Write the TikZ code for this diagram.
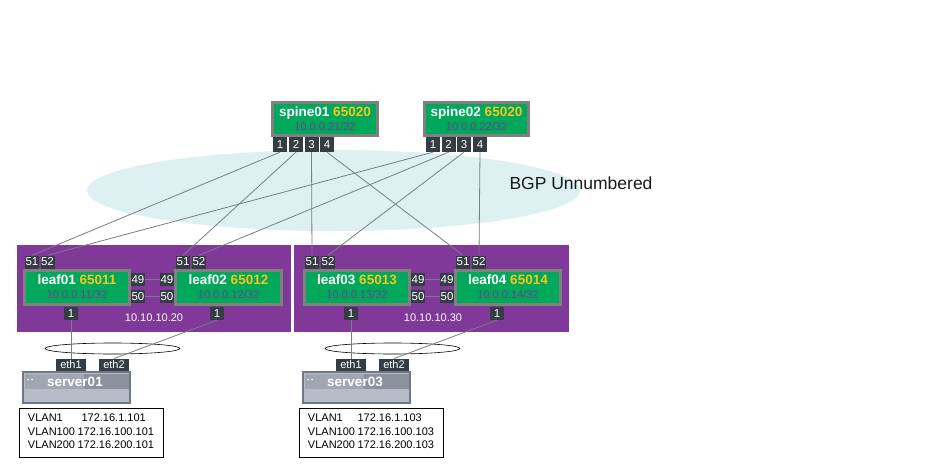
\documentclass[tikz,border=0pt]{standalone}
\usepackage{fontspec}
\setmainfont{Liberation Sans}
\usetikzlibrary{shapes.geometric}
\definecolor{devgreen}{RGB}{0,168,92}
\definecolor{asn}{RGB}{247,196,30}
\definecolor{ipc}{RGB}{108,68,140}
\definecolor{framec}{RGB}{128,128,128}
\definecolor{portc}{RGB}{52,60,68}
\definecolor{purp}{RGB}{128,57,152}
\definecolor{bgpc}{RGB}{221,241,243}
\definecolor{linec}{RGB}{120,126,134}
\definecolor{srvedge}{RGB}{112,119,129}
\definecolor{srvlow}{RGB}{182,189,200}
\definecolor{srvbandl}{RGB}{160,167,179}
\definecolor{srvbandr}{RGB}{138,146,158}
\tikzset{
  device/.style={draw=framec, line width=3pt, fill=devgreen, inner sep=0pt},
  devname/.style={inner sep=0pt, text=white, font=\fontsize{13.5}{13.5}\selectfont\bfseries},
  devip/.style={inner sep=0pt, text=ipc, font=\fontsize{11}{11}\selectfont},
  portbox/.style={fill=portc, text=white, inner sep=0pt, minimum width=14pt, minimum height=14pt, font=\fontsize{11.5}{11.5}\selectfont},
  ethbox/.style={fill=portc, text=white, inner sep=0pt, minimum width=30pt, minimum height=12.5pt, font=\fontsize{11}{11}\selectfont},
  link/.style={draw=linec, line width=0.8pt},
  podbox/.style={fill=purp, draw=none, inner sep=0pt},
  podlabel/.style={text=white, inner sep=0pt, font=\fontsize{11}{11}\selectfont},
  srvbox/.style={fill=srvlow, draw=srvedge, line width=1.5pt, inner sep=0pt, minimum width=106pt, minimum height=30pt},
  srvname/.style={text=white, inner sep=0pt, font=\fontsize{13.5}{13.5}\selectfont\bfseries},
  vlanbox/.style={draw=black, line width=0.6pt, fill=white, inner sep=0pt, minimum width=144pt, minimum height=49pt, font=\fontsize{11}{13.5}\selectfont},
  bondring/.style={draw=black, line width=0.6pt, ellipse, inner sep=0pt, minimum width=135pt, minimum height=11pt},
}
\begin{document}
\begin{tikzpicture}[x=1pt,y=-1pt]
\useasboundingbox (0,0) rectangle (927,468);
\fill[white] (0,0) rectangle (927,468);

% BGP cloud
\node[ellipse, fill=bgpc, draw=none, minimum width=493pt, minimum height=81pt, inner sep=0pt] (bgp) at (333.5,190.5) {};
\node[inner sep=0pt, font=\fontsize{17.5}{17.5}\selectfont, text={rgb,255:red,25;green,25;blue,25}] (bgptext) at (581,183) {BGP Unnumbered};

% pods
\node[podbox, minimum width=274pt, minimum height=87pt] (pod1) at (154,288.5) {};
\node[podbox, minimum width=275pt, minimum height=87pt] (pod2) at (431.5,288.5) {};
\node[podlabel] (pod1lbl) at (154,318) {10.10.10.20};
\node[podlabel] (pod2lbl) at (433,318) {10.10.10.30};

% spines
\node[device, minimum width=105pt, minimum height=33pt] (s1) at (325,119) {};
\node[devname] (s1n) at ([yshift=6pt]s1.center) {spine01 \textcolor{asn}{65020}};
\node[devip] (s1i) at ([yshift=-8pt]s1.center) {10.0.0.21/32};
\node[device, minimum width=104pt, minimum height=33pt] (s2) at (476.5,119) {};
\node[devname] (s2n) at ([yshift=6pt]s2.center) {spine02 \textcolor{asn}{65020}};
\node[devip] (s2i) at ([yshift=-8pt]s2.center) {10.0.0.22/32};

\node[portbox, minimum height=15pt] (s1p1) at (280,144.5) {1};
\node[portbox, minimum height=15pt] (s1p2) at (296,144.5) {2};
\node[portbox, minimum height=15pt] (s1p3) at (311.5,144.5) {3};
\node[portbox, minimum height=15pt] (s1p4) at (327,144.5) {4};
\node[portbox, minimum height=15pt] (s2p1) at (433,144.5) {1};
\node[portbox, minimum height=15pt] (s2p2) at (448.5,144.5) {2};
\node[portbox, minimum height=15pt] (s2p3) at (464,144.5) {3};
\node[portbox, minimum height=15pt] (s2p4) at (480,144.5) {4};

% leaves
\node[device, minimum width=105pt, minimum height=34pt] (l1) at (77,287.5) {};
\node[devname] (l1n) at ([yshift=7.5pt]l1.center) {leaf01 \textcolor{asn}{65011}};
\node[devip] (l1i) at ([yshift=-7.5pt]l1.center) {10.0.0.11/32};
\node[device, minimum width=106pt, minimum height=34pt] (l2) at (228.5,287.5) {};
\node[devname] (l2n) at ([yshift=7.5pt]l2.center) {leaf02 \textcolor{asn}{65012}};
\node[devip] (l2i) at ([yshift=-7.5pt]l2.center) {10.0.0.12/32};
\node[device, minimum width=105pt, minimum height=34pt] (l3) at (357,287.5) {};
\node[devname] (l3n) at ([yshift=7.5pt]l3.center) {leaf03 \textcolor{asn}{65013}};
\node[devip] (l3i) at ([yshift=-7.5pt]l3.center) {10.0.0.13/32};
\node[device, minimum width=105pt, minimum height=34pt] (l4) at (508,287.5) {};
\node[devname] (l4n) at ([yshift=7.5pt]l4.center) {leaf04 \textcolor{asn}{65014}};
\node[devip] (l4i) at ([yshift=-7.5pt]l4.center) {10.0.0.14/32};

% uplink ports
\node[portbox, minimum height=13pt] (l1p51) at (32,262) {51};
\node[portbox, minimum height=13pt] (l1p52) at (47.5,262) {52};
\node[portbox, minimum height=13pt] (l2p51) at (183,262) {51};
\node[portbox, minimum height=13pt] (l2p52) at (199,262) {52};
\node[portbox, minimum height=13pt] (l3p51) at (312,262) {51};
\node[portbox, minimum height=13pt] (l3p52) at (328,262) {52};
\node[portbox, minimum height=13pt] (l4p51) at (463,262) {51};
\node[portbox, minimum height=13pt] (l4p52) at (479,262) {52};

% peer links
\node[portbox, minimum height=13pt] (l1p49) at (138,279.5) {49};
\node[portbox, minimum height=13pt] (l2p49) at (167,279.5) {49};
\node[portbox, minimum height=13pt] (l1p50) at (138,296.5) {50};
\node[portbox, minimum height=13pt] (l2p50) at (167,296.5) {50};
\node[portbox, minimum height=13pt] (l3p49) at (418,279.5) {49};
\node[portbox, minimum height=13pt] (l4p49) at (447,279.5) {49};
\node[portbox, minimum height=13pt] (l3p50) at (418,296.5) {50};
\node[portbox, minimum height=13pt] (l4p50) at (447,296.5) {50};
\draw[link] (l1p49) -- (l2p49);
\draw[link] (l1p50) -- (l2p50);
\draw[link] (l3p49) -- (l4p49);
\draw[link] (l3p50) -- (l4p50);

% downlink ports
\node[portbox, minimum height=13pt] (l1p1) at (71,313.5) {1};
\node[portbox, minimum height=13pt] (l2p1) at (217,313.5) {1};
\node[portbox, minimum height=13pt] (l3p1) at (351,313.5) {1};
\node[portbox, minimum height=13pt] (l4p1) at (497,313.5) {1};

% fabric links
\draw[link] (s1p1.south) -- (l1p51.north);
\draw[link] (s1p2.south) -- (l2p51.north);
\draw[link] (s1p3.south) -- (l3p51.north);
\draw[link] (s1p4.south) -- (l4p51.north);
\draw[link] (s2p1.south) -- (l1p52.north);
\draw[link] (s2p2.south) -- (l2p52.north);
\draw[link] (s2p3.south) -- (l3p52.north);
\draw[link] (s2p4.south) -- (l4p52.north);

% servers
\node[ethbox] (v1e1) at (71,365) {eth1};
\node[ethbox] (v1e2) at (114,365) {eth2};
\node[ethbox] (v3e1) at (351,365) {eth1};
\node[ethbox] (v3e2) at (394,365) {eth2};
\node[bondring] (bond1) at (112.5,348.5) {};
\node[bondring] (bond3) at (392.5,348.5) {};
\draw[link] (l1p1.south) -- (v1e1.north);
\draw[link] (l2p1.south) -- (v1e2.north);
\draw[link] (l3p1.south) -- (v3e1.north);
\draw[link] (l4p1.south) -- (v3e2.north);

\node[srvbox] (srv1) at (76.5,387.5) {};
\fill[srvbandl] (24.5,373.5) rectangle (84,388.5);
\fill[srvbandr] (84,373.5) rectangle (128.5,388.5);
\fill[white!85!srvbandl] (27,378.5) rectangle (29,380);
\fill[white!85!srvbandl] (30.5,378.5) rectangle (32.5,380);
\draw[srvedge, line width=1.5pt] (srv1.north west) rectangle (srv1.south east);
\node[srvname] (srv1n) at (75,381.5) {server01};

\node[srvbox] (srv3) at (356.5,387.5) {};
\fill[srvbandl] (304.5,373.5) rectangle (364,388.5);
\fill[srvbandr] (364,373.5) rectangle (408.5,388.5);
\fill[white!85!srvbandl] (307,378.5) rectangle (309,380);
\fill[white!85!srvbandl] (310.5,378.5) rectangle (312.5,380);
\draw[srvedge, line width=1.5pt] (srv3.north west) rectangle (srv3.south east);
\node[srvname] (srv3n) at (355,381.5) {server03};

% VLAN tables
\node[vlanbox] (vl1) at (91,432.5) {\begin{tabular}{@{}l@{\hspace{2.5pt}}l@{}}VLAN1 & \hspace{4pt}172.16.1.101\\VLAN100 & 172.16.100.101\\VLAN200 & 172.16.200.101\end{tabular}};
\node[vlanbox] (vl3) at (371,432.5) {\begin{tabular}{@{}l@{\hspace{2.5pt}}l@{}}VLAN1 & 172.16.1.103\\VLAN100 & 172.16.100.103\\VLAN200 & 172.16.200.103\end{tabular}};
\end{tikzpicture}
\end{document}
